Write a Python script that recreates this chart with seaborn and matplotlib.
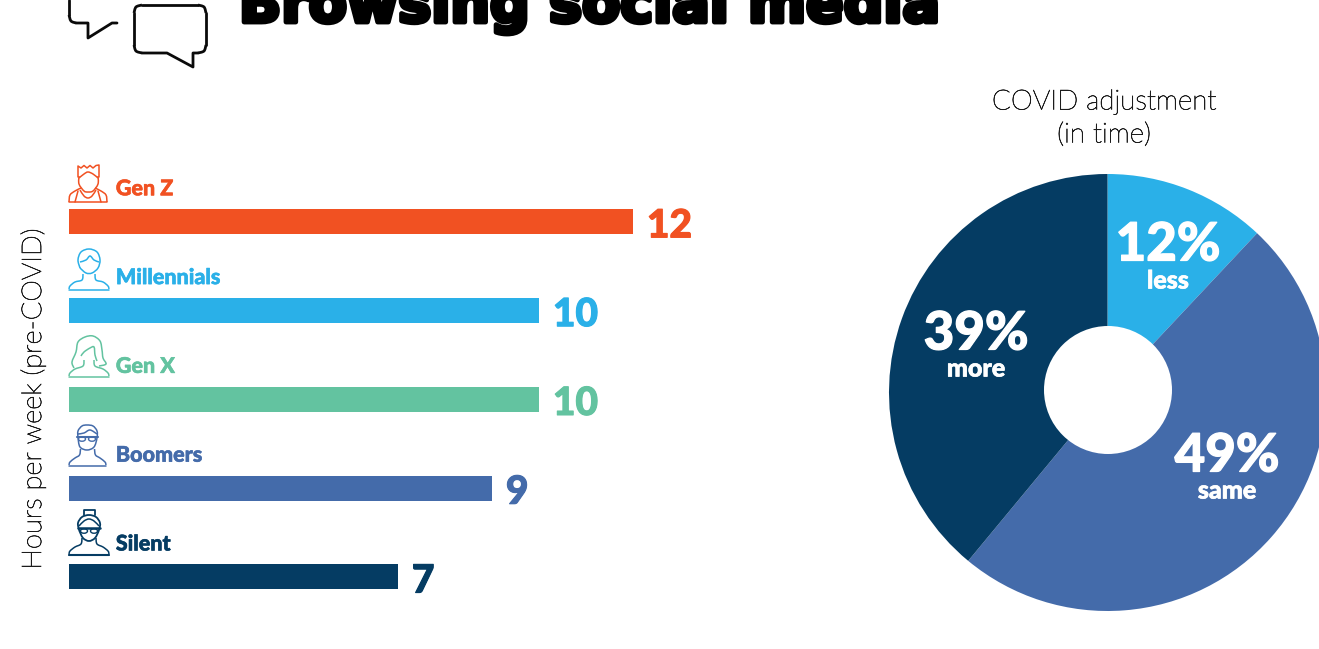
import numpy as np
import pandas as pd
import matplotlib
matplotlib.use("Agg")
import matplotlib.pyplot as plt
import matplotlib.patheffects as pe
from matplotlib.patches import Circle, Ellipse, PathPatch
from matplotlib.path import Path
import seaborn as sns

generations = ["Gen Z", "Millennials", "Gen X", "Boomers", "Silent"]
hours_per_week = [12, 10, 10, 9, 7]
generation_colors = ["#F15122", "#2AB0E8", "#63C3A0", "#446BAA", "#053C63"]

adjustment_labels = ["less", "same", "more"]
adjustment_share = [12, 49, 39]
adjustment_colors = ["#2AB0E8", "#446BAA", "#053C63"]

W, H = 1319, 649
sns.set_theme(style="white")
plt.rcParams["font.family"] = ["Lato", "DejaVu Sans"]
fig = plt.figure(figsize=(W / 100, H / 100), dpi=100, facecolor="white")


def axes_px(left, top, right, bottom, **kw):
    return fig.add_axes([left / W, 1 - bottom / H, (right - left) / W, (bottom - top) / H], **kw)


def heavy(color, width):
    """Outline that thickens a font's strokes in its own colour."""
    return [pe.withStroke(linewidth=width, foreground=color)]


# Horizontal bars
ax = axes_px(68.6, 150, 768.6, 620)
df = pd.DataFrame({"generation": generations, "hours": hours_per_week})
sns.barplot(data=df, y="generation", x="hours", hue="generation", palette=generation_colors,
            hue_order=generations, legend=False, width=0.282, saturation=1, linewidth=0, ax=ax)
ax.set_xlim(0, 700 / 47)
ax.set_ylim((620 - 221.7) / 88.8, (150 - 221.7) / 88.8)
ax.axis("off")
for i, (g, v, c) in enumerate(zip(generations, hours_per_week, generation_colors)):
    ax.annotate(str(v), (v, i), xytext=(10.3, -3), textcoords="offset points", va="center", ha="left",
                fontsize=28, fontweight="black", color=c, path_effects=heavy(c, 0.8))
    ax.annotate(g, (0, i), xytext=(34, 23.7), textcoords="offset points", va="center", ha="left",
                fontsize=15.5, fontweight="black", color=c, path_effects=heavy(c, 0.4))

# Donut of the COVID adjustment
R = 218.5
pie_ax = axes_px(1107.5 - R, 392.5 - R, 1107.5 + R, 392.5 + R)
pie_ax.pie(adjustment_share, colors=adjustment_colors, startangle=90, counterclock=False, radius=1,
           wedgeprops={"linewidth": 0})
pie_ax.set_xlim(-1, 1)
pie_ax.set_ylim(-1, 1)

# Overlay in pixel coordinates for headings and pictograms
ov = fig.add_axes([0, 0, 1, 1], facecolor="none")
ov.set_xlim(0, W)
ov.set_ylim(H, 0)
ov.axis("off")

ov.add_patch(Circle((1108, 390), 64, fc="white", ec="none"))

ov.text(239, 22, "Browsing social media", fontsize=40, fontweight="bold", color="black",
        ha="left", va="baseline", family=["DejaVu Sans"], path_effects=heavy("black", 3.5))
light_ink = "#1c1c1c"
for text, y in [("COVID adjustment", 102), ("(in time)", 135)]:
    ov.text(1104, y, text, fontsize=20, fontweight="light", color=light_ink,
            ha="center", va="center", path_effects=heavy(light_ink, 0.45))
ov.text(33, 399, "Hours per week (pre-COVID)", fontsize=19.7, fontweight="light", color=light_ink,
        rotation=90, ha="center", va="center", path_effects=heavy(light_ink, 0.45))

label_xy = [(1168, 245, 281), (1227, 456, 491), (976, 334, 369)]
for (x, y1, y2), lab, val in zip(label_xy, adjustment_labels, adjustment_share):
    ov.text(x, y1, f"{val}%", fontsize=38, fontweight="black", color="white", ha="center", va="center",
            path_effects=heavy("white", 0.9))
    ov.text(x, y2, lab, fontsize=18, fontweight="black", color="white", ha="center", va="center",
            path_effects=heavy("white", 0.5))


def line(pts, color, lw=1.1):
    xs, ys = zip(*pts)
    ov.plot(xs, ys, color=color, lw=lw, solid_capstyle="round", solid_joinstyle="round", clip_on=False)


def curve(pts, color, lw=1.1):
    """Smooth open curve through the given points."""
    p = np.array(pts, float)
    verts = [tuple(p[0])]
    codes = [Path.MOVETO]
    for i in range(len(p) - 1):
        a = p[max(i - 1, 0)]
        b = p[i]
        c = p[i + 1]
        d = p[min(i + 2, len(p) - 1)]
        verts += [tuple(b + (c - a) / 6), tuple(c - (d - b) / 6), tuple(c)]
        codes += [Path.CURVE4] * 3
    ov.add_patch(PathPatch(Path(verts, codes), fc="none", ec=color, lw=lw, clip_on=False))


# Speech bubbles next to the title
ink = "#0a0a0a"
line([(69, 0), (69, 15)], ink, 2)
curve([(69, 15), (71, 21), (76, 23)], ink, 2)
line([(76, 23), (88, 23), (88, 38), (112, 23), (117, 23)], ink, 2)
line([(142, 5), (198, 5)], ink, 2)
curve([(198, 5), (204, 7), (206, 13)], ink, 2)
line([(206, 13), (206, 45)], ink, 2)
curve([(206, 45), (204, 51), (198, 53)], ink, 2)
line([(198, 53), (193, 53), (193, 67), (167, 53), (142, 53)], ink, 2)
curve([(142, 53), (136, 51), (134, 45)], ink, 2)
line([(134, 45), (134, 13)], ink, 2)
curve([(134, 13), (136, 7), (142, 5)], ink, 2)


def bust(cx, base, half, neck_top, neck, color):
    left = [(cx - neck, neck_top), (cx - neck - 1, neck_top + 6), (cx - half + 6, base - 8),
            (cx - half + 1, base - 4), (cx - half, base - 1)]
    curve(left, color)
    curve([(2 * cx - x, y) for x, y in left], color)
    line([(cx - half, base), (cx + half, base)], color)


# Gen Z: spiky hair and tank top
c = generation_colors[0]
line([(78, 177), (78, 166), (81, 168), (84, 165.5), (87, 168), (90, 165.5), (93, 168), (96, 165.5),
      (99, 165), (99, 177)], c)
curve([(79, 176), (79, 184), (84, 191), (88, 192), (93, 191), (98, 184), (98, 176)], c)
curve([(79, 178), (84, 174), (88, 172), (93, 174), (98, 178)], c)
curve([(69, 202), (70, 195), (75, 191), (81, 188)], c)
curve([(107, 202), (106, 195), (101, 191), (95, 188)], c)
line([(69, 202), (107, 202)], c)
line([(75, 202), (78, 191)], c)
line([(101, 202), (98, 191)], c)
curve([(80, 190), (84, 196), (88, 198), (92, 196), (96, 190)], c)

# Millennials: swept fringe
c = generation_colors[1]
curve([(80, 268), (78, 260), (81, 252), (89, 249), (97, 252), (100, 260), (98, 268), (92, 273), (86, 273),
       (80, 268)], c)
curve([(80, 262), (86, 260), (90, 256), (94, 260), (99, 262)], c)
bust(89, 290, 20, 274, 6, c)

# Gen X: long hair
c = generation_colors[2]
curve([(74, 368), (72, 362), (76, 352), (78, 342), (85, 337), (93, 336), (100, 341), (102, 350), (103, 358),
       (106, 364), (99, 366)], c)
curve([(81, 356), (84, 352), (90, 348), (94, 347), (95, 355), (97, 361)], c)
bust(89, 377, 20, 360, 5, c)

# Boomers: glasses and side parting
c = generation_colors[3]
curve([(78, 438), (78, 431), (82, 426), (87, 425), (93, 426), (97, 431), (97, 438), (94, 447), (87, 450),
       (80, 447), (78, 438)], c)
curve([(78, 434), (84, 433), (90, 430), (97, 434)], c)
line([(77, 437), (98, 437)], c, 1.5)
ov.add_patch(Ellipse((82, 439), 7, 4.5, fc="none", ec=c, lw=1))
ov.add_patch(Ellipse((92, 439), 7, 4.5, fc="none", ec=c, lw=1))
bust(87.5, 466, 18.5, 449, 7, c)

# Silent: hair bun and glasses
c = generation_colors[4]
line([(84, 515), (84, 510), (95, 510), (95, 515)], c, 1.3)
curve([(79, 530), (78, 523), (82, 517), (89, 515), (96, 517), (100, 523), (99, 530), (95, 538), (89, 541),
       (83, 538), (79, 530)], c, 1.3)
curve([(79, 526), (84, 521), (89, 519), (94, 521), (99, 526)], c, 1.1)
line([(78, 528), (100, 528)], c, 1.8)
ov.add_patch(Ellipse((84, 531), 7, 4.5, fc="none", ec=c, lw=1))
ov.add_patch(Ellipse((94, 531), 7, 4.5, fc="none", ec=c, lw=1))
bust(89, 555, 20, 538, 7, c)
line([(69, 555), (109, 555)], c, 1.5)

fig.savefig("out.png", dpi=100, facecolor="white")
